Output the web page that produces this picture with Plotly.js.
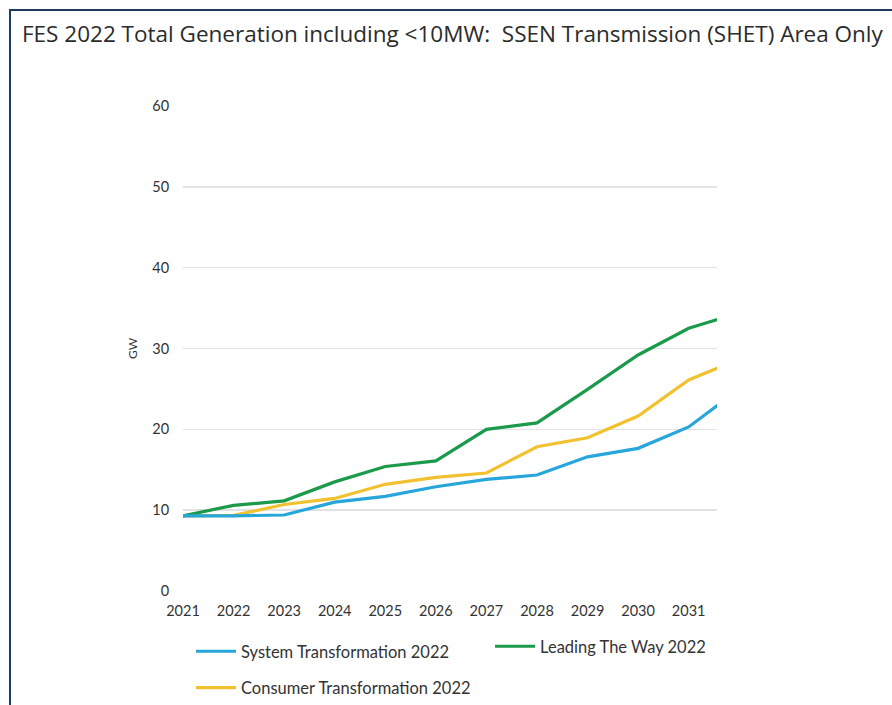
<!DOCTYPE html>
<html>
<head>
<meta charset="utf-8">
<script src="https://cdn.plot.ly/plotly-3.0.1.min.js"></script>
<style>
  html, body { margin: 0; padding: 0; background: #ffffff; }
  #frame { position: absolute; left: 9px; top: 9px; width: 900px; height: 720px;
           border-top: 2px solid #1f3a5f; border-left: 2px solid #1f3a5f; }
  #chart { position: absolute; left: 0; top: 0; width: 892px; height: 705px; }
</style>
</head>
<body>
<div id="frame"></div>
<div id="chart"></div>
<script>
// Years on the x axis (2032 point lies just beyond the visible range, line is clipped)
const years = [2021, 2022, 2023, 2024, 2025, 2026, 2027, 2028, 2029, 2030, 2031, 2032];
const tickYears = [2021, 2022, 2023, 2024, 2025, 2026, 2027, 2028, 2029, 2030, 2031];

// Total generation (GW)
const systemTransformation   = [9.3, 9.3, 9.4, 11.0, 11.7, 12.9, 13.8, 14.35, 16.6, 17.65, 20.3, 25.0];
const leadingTheWay          = [9.3, 10.6, 11.15, 13.5, 15.4, 16.1, 20.0, 20.8, 24.95, 29.2, 32.5, 34.4];
const consumerTransformation = [9.3, 9.35, 10.7, 11.45, 13.2, 14.05, 14.6, 17.85, 18.95, 21.65, 26.1, 28.7];

const names = {
  system: 'System Transformation 2022',
  leading: 'Leading The Way 2022',
  consumer: 'Consumer Transformation 2022'
};
const yTicks = [0, 10, 20, 30, 40, 50, 60];

const colors = { system: '#27a6dc', leading: '#1b9a4b', consumer: '#f1c12f' };
const fontFam = 'Lato, "Open Sans", sans-serif';

const traces = [
  { x: years, y: consumerTransformation, name: names.consumer, type: 'scatter', mode: 'lines',
    line: { color: colors.consumer, width: 3.2 }, legend: 'legend', legendgroup: 'c', legendrank: 2 },
  { x: years, y: leadingTheWay, name: names.leading, type: 'scatter', mode: 'lines',
    line: { color: colors.leading, width: 3.2 }, legend: 'legend2', legendgroup: 'l', legendrank: 1 },
  { x: years, y: systemTransformation, name: names.system, type: 'scatter', mode: 'lines',
    line: { color: colors.system, width: 3.2 }, legend: 'legend', legendgroup: 's', legendrank: 1 }
];

const layout = {
  width: 892, height: 705,
  paper_bgcolor: 'rgba(0,0,0,0)',
  plot_bgcolor: '#ffffff',
  margin: { l: 183, r: 175, t: 106, b: 114 },
  font: { family: fontFam, color: '#333333', size: 14 },
  title: {
    text: 'FES 2022 Total Generation including &lt;10MW:  SSEN Transmission (SHET) Area Only',
    font: { family: '"Open Sans", sans-serif', size: 22.5, color: '#2b2b2b' },
    x: 22 / 892, xanchor: 'left', xref: 'container',
    y: 1 - 34 / 705, yanchor: 'middle', yref: 'container'
  },
  xaxis: {
    range: [2021, 2031.56],
    tickvals: tickYears,
    ticktext: tickYears.map(String),
    showgrid: false, zeroline: false, showline: false,
    ticks: 'outside', ticklen: 7, tickcolor: 'rgba(0,0,0,0)',
    tickfont: { size: 14.5, color: '#333333' }
  },
  yaxis: {
    range: [0, 60],
    tickvals: yTicks,
    showgrid: true, gridcolor: '#e2e2e2', gridwidth: 1.5,
    zeroline: false, showline: false,
    ticks: 'outside', ticklen: 10, tickcolor: 'rgba(0,0,0,0)',
    tickfont: { size: 14.5, color: '#333333' },
    title: { text: 'GW', font: { size: 12, color: '#333333' }, standoff: 12 }
  },
  legend: {
    orientation: 'v', traceorder: 'grouped', tracegroupgap: 12, itemwidth: 40,
    x: 0.015, xanchor: 'left', xref: 'paper',
    y: 1 - 634 / 705, yanchor: 'top', yref: 'container',
    bgcolor: 'rgba(0,0,0,0)', font: { size: 16.5, color: '#333333' }
  },
  legend2: {
    orientation: 'v', itemwidth: 40,
    x: 0.575, xanchor: 'left', xref: 'paper',
    y: 1 - 629 / 705, yanchor: 'top', yref: 'container',
    bgcolor: 'rgba(0,0,0,0)', font: { size: 16.5, color: '#333333' }
  },
  showlegend: true
};

Plotly.newPlot('chart', traces, layout, { displayModeBar: false, staticPlot: true });
</script>
</body>
</html>
